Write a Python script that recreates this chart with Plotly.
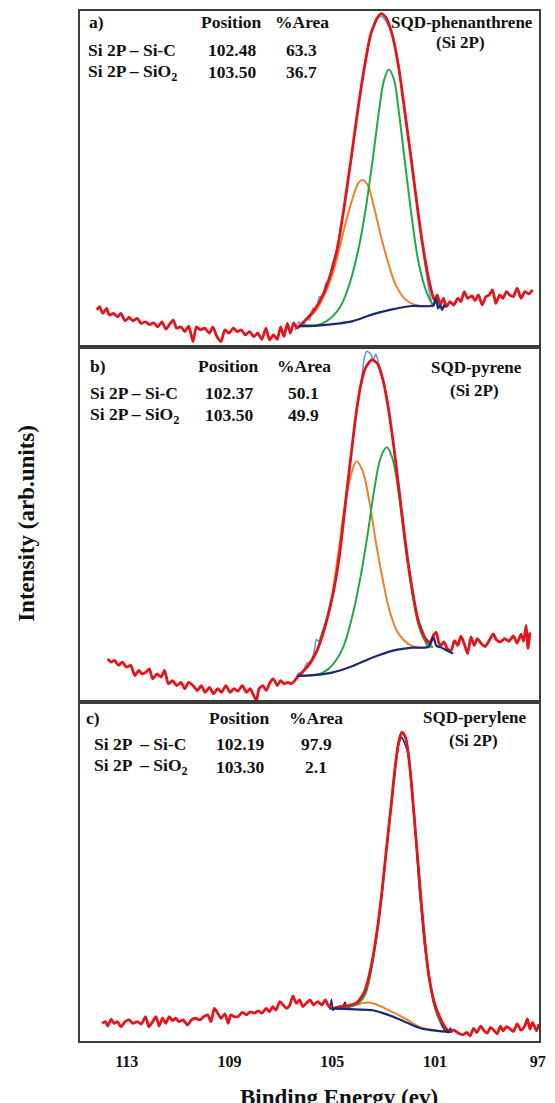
import plotly.graph_objects as go

# ---------------- DATA (binding energy in eV, intensity in arb. units 0-100 per panel) -------------
TICKS = [113, 109, 105, 101, 97]

# Panel a : SQD-phenanthrene
A_data_x = [114.16, 114.06, 113.93, 113.78, 113.68, 113.52, 113.36, 113.23, 113.06, 112.91, 112.76, 112.59,
            112.44, 112.27, 112.12, 111.95, 111.79, 111.63, 111.48, 111.31, 111.19, 111.06, 110.89, 110.74,
            110.59, 110.42, 110.29, 110.13, 109.97, 109.78, 109.65, 109.49, 109.33, 109.18, 109.02, 108.85,
            108.70, 108.54, 108.38, 108.22, 108.06, 107.90, 107.74, 107.58, 107.44, 107.29, 107.14, 107.01,
            106.88, 106.75, 106.63, 106.50, 106.37,
            106.24, 105.73, 105.35, 105.03, 104.77, 104.52, 104.26, 104.01, 103.75, 103.50, 103.24, 103.08,
            102.90, 102.67, 102.41, 102.16, 101.90, 101.65, 101.42, 101.20, 101.03,
            100.91, 100.80, 100.67, 100.55, 100.42, 100.27, 100.11, 99.99, 99.86, 99.73, 99.56, 99.44,
            99.31, 99.16, 99.02, 98.89, 98.76, 98.63, 98.48, 98.35, 98.22, 98.10, 97.95, 97.80, 97.65,
            97.50, 97.35, 97.20]
A_data_y = [11.0, 12.0, 10.0, 11.5, 9.5, 10.0, 9.0, 10.0, 7.8, 8.8, 7.8, 8.5,
            7.0, 7.5, 6.7, 7.2, 6.0, 7.5, 5.3, 7.0, 8.0, 5.6, 6.0, 4.6,
            6.2, 1.6, 6.0, 5.1, 5.6, 4.1, 6.0, 3.1, 1.6, 5.1, 4.1, 5.6,
            4.6, 5.1, 3.6, 4.6, 3.1, 4.1, 2.3, 5.6, 2.1, 3.6, 2.3, 6.0,
            3.1, 7.0, 4.1, 7.2, 5.6,
            6.5, 10.7, 15.7, 22.6, 30.6, 42.5, 56.3, 70.2, 83.1, 93.1, 98.0, 99.2,
            98.0, 93.1, 83.1, 69.2, 54.4, 39.5, 27.6, 18.7, 14.0,
            15.5, 12.5, 14.5, 12.0, 13.5, 12.5, 14.5, 13.5, 16.5, 14.5, 15.2, 13.8,
            15.5, 12.5, 15.0, 15.5, 17.0, 13.0, 15.5, 14.5, 16.5, 15.5, 15.0, 17.5, 14.5,
            16.5, 15.8, 17.0]
A_raw_x = [106.45, 106.30, 106.15, 106.00, 105.88, 105.75, 105.62, 105.50, 105.38, 105.25, 105.12, 105.00,
           104.85, 104.70, 104.52, 104.26, 104.01, 103.75, 103.50, 103.30, 103.12, 102.95, 102.67, 102.41,
           102.16, 101.90, 101.65, 101.45, 101.30, 101.18, 101.08, 100.98, 100.90]
A_raw_y = [5.0, 7.5, 6.0, 8.5, 8.0, 11.5, 11.0, 15.0, 14.5, 19.0, 19.5, 24.5,
           28.0, 34.0, 42.5, 56.3, 70.2, 83.1, 93.1, 97.5, 98.5, 97.5, 93.1, 83.1,
           69.2, 54.4, 39.5, 28.0, 20.0, 15.0, 12.0, 14.5, 12.5]
A_bg_x = [106.30, 105.70, 104.97, 104.20, 103.43, 102.67, 101.90, 101.07, 100.96, 100.88, 100.80, 100.72,
          100.65, 100.60]
A_bg_y = [6.2, 6.3, 6.8, 7.7, 9.7, 11.2, 12.2, 12.4, 14.5, 11.5, 12.5, 11.0, 12.5, 11.8]
A_sic_x = [106.24, 105.60, 105.22, 104.71, 104.33, 103.94, 103.69, 103.43, 103.18, 102.99, 102.80, 102.60,
           102.41, 102.16, 101.90, 101.65, 101.39, 101.14, 101.01]
A_sic_y = [6.6, 6.5, 7.7, 11.7, 18.7, 30.6, 41.5, 55.4, 70.2, 79.2, 82.6, 79.7,
           70.2, 54.4, 38.5, 25.6, 17.7, 13.2, 12.2]
A_sio2_x = [106.24, 105.99, 105.60, 105.29, 104.97, 104.71, 104.46, 104.20, 103.97, 103.82, 103.62, 103.37,
            103.12, 102.86, 102.54, 102.16, 101.77, 101.39, 101.07]
A_sio2_y = [6.6, 8.2, 11.2, 15.7, 22.1, 29.6, 37.5, 44.4, 48.9, 49.7, 48.2, 41.5,
            33.5, 26.1, 18.7, 14.2, 12.5, 12.2, 12.3]

# Panel b : SQD-pyrene
B_data_x = [113.74, 113.61, 113.48, 113.32, 113.17, 113.01, 112.85, 112.68, 112.53, 112.40, 112.25, 112.12,
            111.99, 111.82, 111.66, 111.53, 111.38, 111.22, 111.06, 110.89, 110.74, 110.59, 110.42, 110.25,
            110.10, 109.95, 109.78, 109.62, 109.46, 109.31, 109.14, 108.98, 108.82, 108.67, 108.50, 108.34,
            108.19, 108.06, 107.95, 107.85, 107.70, 107.57, 107.42, 107.29, 107.14, 107.01, 106.88, 106.72,
            106.59, 106.46, 106.30,
            105.99, 105.60, 105.29, 104.97, 104.71, 104.46, 104.26, 104.07, 103.88, 103.69, 103.46, 103.24,
            103.02, 102.82, 102.60, 102.41, 102.16, 101.90, 101.65, 101.39, 101.20, 101.03,
            100.95, 100.85, 100.78, 100.65, 100.52, 100.37, 100.24, 100.11, 99.99, 99.86, 99.73, 99.60,
            99.47, 99.35, 99.19, 99.05, 98.89, 98.73, 98.61, 98.45, 98.29, 98.12, 97.95, 97.80, 97.65,
            97.55, 97.45, 97.38, 97.30]
B_data_y = [12.0, 11.1, 11.6, 10.2, 11.1, 9.7, 10.2, 7.3, 8.8, 7.8, 8.3, 9.2,
            6.4, 7.8, 6.9, 8.8, 5.0, 5.9, 4.5, 5.4, 3.6, 5.4, 4.5, 3.1,
            4.5, 2.6, 4.0, 2.2, 3.6, 2.6, 4.5, 2.6, 3.6, 2.9, 4.5, 2.6,
            3.6, 1.7, 0.3, 3.6, 4.5, 3.1, 5.4, 6.4, 4.5, 5.9, 5.0, 5.4,
            5.0, 5.9, 7.3,
            9.6, 14.3, 20.9, 30.3, 41.6, 57.6, 69.9, 81.2, 89.6, 94.3, 96.4, 95.3,
            90.6, 83.0, 71.7, 60.4, 45.4, 32.2, 22.8, 18.0, 16.6, 19.0,
            19.5, 16.5, 15.8, 16.8, 14.9, 14.4, 17.2, 15.8, 18.4, 16.3, 13.5, 18.2,
            15.8, 17.7, 16.3, 15.5, 17.2, 19.1, 17.4, 16.8, 17.7, 17.0, 18.5, 16.5, 19.0,
            17.0, 21.5, 15.0, 19.5]
B_raw_x = [106.45, 106.30, 106.18, 106.05, 105.95, 105.85, 105.72, 105.62, 105.52, 105.40, 105.25, 105.10,
           104.95, 104.80, 104.65, 104.46, 104.26, 104.07, 103.88, 103.75, 103.65, 103.50, 103.40, 103.30,
           103.20, 103.08, 102.95, 102.82, 102.60, 102.41, 102.16, 101.90, 101.65, 101.45, 101.30, 101.18,
           101.08, 101.00]
B_raw_y = [6.0, 8.0, 7.5, 10.0, 11.0, 10.5, 13.5, 17.5, 17.0, 19.5, 22.5, 27.0,
           31.5, 38.0, 45.0, 57.6, 69.9, 81.2, 89.6, 97.0, 98.8, 98.0, 96.5, 98.0,
           95.5, 92.5, 88.5, 83.0, 71.7, 60.4, 45.4, 32.2, 22.8, 18.5, 15.5, 15.2,
           19.0, 17.0]
B_bg_x = [106.37, 105.60, 104.97, 104.20, 103.43, 102.67, 101.90, 101.26, 101.07, 100.94, 100.78, 100.59,
          100.40, 100.29]
B_bg_y = [7.2, 7.5, 8.2, 10.0, 12.4, 14.3, 15.2, 15.4, 18.0, 15.7, 15.3, 14.6, 13.9, 13.5]
B_sic_x = [106.37, 105.86, 105.35, 104.97, 104.58, 104.20, 103.88, 103.62, 103.37, 103.11, 102.88, 102.67,
           102.41, 102.16, 101.90, 101.65, 101.39, 101.20, 101.07]
B_sic_y = [7.2, 7.3, 8.2, 10.5, 15.2, 24.6, 35.9, 47.2, 59.5, 68.9, 71.7, 68.9,
           58.6, 44.4, 31.2, 21.8, 17.1, 15.7, 15.4]
B_sio2_x = [106.37, 105.86, 105.48, 105.09, 104.77, 104.52, 104.26, 104.05, 103.82, 103.56, 103.31, 103.05,
            102.73, 102.41, 102.03, 101.65, 101.26]
B_sio2_y = [7.2, 10.5, 16.2, 26.5, 41.6, 54.8, 64.2, 67.8, 65.1, 56.7, 45.4, 35.0,
            24.6, 19.0, 16.2, 15.2, 15.4]

# Panel c : SQD-perylene
C_data_x = [113.96, 113.83, 113.74, 113.61, 113.49, 113.36, 113.23, 113.06, 112.91, 112.76, 112.59, 112.43,
            112.27, 112.14, 111.99, 111.86, 111.74, 111.61, 111.48, 111.35, 111.22, 111.10, 110.97, 110.80,
            110.64, 110.48, 110.33, 110.16, 110.00, 109.85, 109.72, 109.59, 109.46, 109.33, 109.18, 109.05,
            108.95, 108.82, 108.67, 108.50, 108.34, 108.19, 108.03, 107.87, 107.74, 107.57, 107.44, 107.32,
            107.19, 107.04, 106.91, 106.78, 106.65, 106.53, 106.40, 106.27, 106.14, 106.01, 105.86, 105.73,
            105.57, 105.40, 105.27, 105.14, 105.02,
            104.71, 104.33, 104.01, 103.75, 103.50, 103.24, 103.05, 102.86, 102.69, 102.54, 102.41, 102.29,
            102.16, 102.03, 101.90, 101.75, 101.58, 101.42, 101.24, 101.03, 100.82, 100.60,
            100.46, 100.27, 100.08, 99.91, 99.76, 99.63, 99.50, 99.37, 99.22, 99.09, 98.96, 98.84,
            98.71, 98.58, 98.45, 98.35, 98.22, 98.10, 97.95, 97.80, 97.65, 97.50, 97.40, 97.30,
            97.20, 97.05, 96.95]
C_data_y = [5.2, 5.7, 4.4, 6.4, 5.2, 5.7, 4.2, 5.7, 6.2, 5.2, 5.7, 5.0,
            7.2, 4.2, 5.7, 7.2, 4.4, 6.7, 5.2, 7.2, 6.0, 6.7, 5.7, 6.2,
            4.7, 6.2, 6.7, 6.2, 7.2, 7.7, 5.7, 9.6, 8.2, 6.7, 8.0, 5.2,
            7.7, 7.2, 7.2, 8.4, 7.7, 8.6, 8.2, 8.9, 8.2, 9.6, 8.6, 10.1,
            9.1, 11.6, 10.6, 9.6, 10.6, 13.3, 11.1, 12.1, 10.1, 11.1, 12.1, 10.6,
            11.6, 10.6, 12.1, 10.3, 9.6,
            10.1, 10.5, 11.5, 14.5, 21.4, 33.2, 45.0, 58.7, 70.5, 81.3, 88.2, 91.0,
            89.7, 84.3, 74.4, 60.7, 45.0, 31.2, 19.4, 11.5, 7.1, 4.0,
            2.7, 3.2, 2.3, 1.8, 2.5, 1.5, 3.7, 2.5, 4.4, 3.0, 2.3, 4.0,
            3.2, 2.1, 4.4, 3.0, 4.2, 3.7, 2.8, 5.0, 3.2, 4.5, 6.5, 3.5,
            5.5, 3.0, 5.0]
C_raw_x = [105.10, 105.03, 104.97, 104.88, 104.80, 104.60, 104.50, 104.44, 104.30, 104.00, 103.75, 103.50,
           103.24, 103.05, 102.86, 102.69, 102.54, 102.41, 102.30, 102.20, 102.08, 101.98, 101.86, 101.72,
           101.60, 101.48, 101.40, 101.25, 101.05, 100.85, 100.62, 100.50, 100.40, 100.33]
C_raw_y = [9.3, 12.3, 9.0, 9.8, 9.5, 10.0, 11.5, 9.6, 10.2, 11.4, 14.2, 21.0,
           33.0, 44.5, 58.5, 70.5, 81.0, 87.5, 89.5, 88.0, 85.5, 80.5, 70.0, 57.5,
           44.0, 34.5, 28.0, 20.0, 11.0, 6.5, 3.2, 2.5, 3.8, 2.4]
C_bg_x = [105.06, 104.10, 103.46, 102.82, 102.18, 101.54, 100.91, 100.39]
C_bg_y = [9.6, 9.3, 9.1, 7.7, 5.7, 3.7, 3.0, 2.7]
C_sic_x = [104.90, 104.50, 104.20, 103.95, 103.72, 103.50, 103.24, 103.05, 102.86, 102.69, 102.54, 102.41,
           102.29, 102.16, 102.03, 101.90, 101.75, 101.58, 101.42, 101.24, 101.03, 100.82, 100.56, 100.39]
C_sic_y = [9.5, 9.8, 10.3, 11.3, 13.6, 20.2, 32.6, 44.6, 58.5, 70.4, 81.2, 88.1,
           90.8, 89.5, 84.1, 74.2, 60.5, 44.8, 31.0, 19.0, 10.8, 6.2, 3.8, 2.8]
C_sio2_x = [104.80, 104.10, 103.72, 103.33, 102.82, 102.18, 101.54, 101.03, 100.60]
C_sio2_y = [9.5, 10.6, 11.3, 10.9, 9.1, 6.7, 4.0, 3.2, 2.8]

PANEL_LABELS = ["a)", "b)", "c)"]
SAMPLES = ["SQD-phenanthrene", "SQD-pyrene", "SQD-perylene"]
COMPONENTS = [["Si 2P \u2013 Si-C", "Si 2P \u2013 SiO<sub>2</sub>"],
              ["Si 2P \u2013 Si-C", "Si 2P \u2013 SiO<sub>2</sub>"],
              ["Si 2P  \u2013 Si-C", "Si 2P  \u2013 SiO<sub>2</sub>"]]
POSITIONS = [["102.48", "103.50"], ["102.37", "103.50"], ["102.19", "103.30"]]
AREAS = [["63.3", "36.7"], ["50.1", "49.9"], ["97.9", "2.1"]]

# ---------------- LAYOUT / STYLE ----------------
W, H = 555, 1103
ML, MR, MT, MB = 80, 9, 11, 62
PW, PH = W - ML - MR, H - MT - MB


def px(x):
    return (x - ML) / PW


def py(y):
    return (H - MB - y) / PH


FONT = "Liberation Serif, Times New Roman, serif"
RED, GREEN, ORANGE, NAVY, LBLUE = "#e3141c", "#22a844", "#f0812c", "#1b2a6e", "#5b9bd5"
BORDER = "#3c3c3c"
XR = [114.82, 96.95]

panels = [
    dict(data=(A_data_x, A_data_y), raw=(A_raw_x, A_raw_y, LBLUE), bg=(A_bg_x, A_bg_y),
         sic=(A_sic_x, A_sic_y), sio2=(A_sio2_x, A_sio2_y)),
    dict(data=(B_data_x, B_data_y), raw=(B_raw_x, B_raw_y, LBLUE), bg=(B_bg_x, B_bg_y),
         sic=(B_sic_x, B_sic_y), sio2=(B_sio2_x, B_sio2_y)),
    dict(data=(C_data_x, C_data_y), raw=(C_raw_x, C_raw_y, NAVY), bg=(C_bg_x, C_bg_y),
         sic=(C_sic_x, C_sic_y), sio2=(C_sio2_x, C_sio2_y)),
]
domains = [[py(347), 1.0], [py(701.5), py(347)], [0.0, py(701.5)]]

fig = go.Figure()
for i, p in enumerate(panels):
    suf = "" if i == 0 else str(i + 1)
    xa, ya = "x" + suf, "y" + suf
    rx, ry, rc = p["raw"]
    fig.add_trace(go.Scatter(x=rx, y=ry, mode="lines", xaxis=xa, yaxis=ya,
                             line=dict(color=rc, width=1.6, shape="spline", smoothing=0.5)))
    fig.add_trace(go.Scatter(x=p["sio2"][0], y=p["sio2"][1], mode="lines", xaxis=xa, yaxis=ya,
                             line=dict(color=ORANGE, width=2, shape="spline", smoothing=1)))
    fig.add_trace(go.Scatter(x=p["sic"][0], y=p["sic"][1], mode="lines", xaxis=xa, yaxis=ya,
                             line=dict(color=GREEN, width=2, shape="spline", smoothing=1)))
    fig.add_trace(go.Scatter(x=p["data"][0], y=p["data"][1], mode="lines", xaxis=xa, yaxis=ya,
                             line=dict(color=RED, width=2.8, shape="spline", smoothing=0.6)))
    fig.add_trace(go.Scatter(x=p["bg"][0], y=p["bg"][1], mode="lines", xaxis=xa, yaxis=ya,
                             line=dict(color=NAVY, width=2.2, shape="spline", smoothing=0.8)))

    bottom = (i == 2)
    fig.layout["xaxis" + suf] = dict(
        range=XR, domain=[0, 1], anchor=ya, showgrid=False, zeroline=False,
        showline=True, mirror=True, linecolor=BORDER, linewidth=2,
        tickvals=TICKS, ticktext=[str(t) for t in TICKS],
        showticklabels=bottom, ticks="outside" if bottom else "", ticklen=5,
        tickcolor="rgba(0,0,0,0)",
        tickfont=dict(family=FONT, size=16, color="#111", weight="bold"),
        matches=None if i == 0 else "x")
    fig.layout["yaxis" + suf] = dict(
        range=[0, 100], domain=domains[i], anchor=xa, showgrid=False, zeroline=False,
        showline=True, mirror=True, linecolor=BORDER, linewidth=2,
        showticklabels=False, ticks="")

# ---------------- TEXT ----------------
ann = []


def text(t, x, y, xanchor="center", size=17.5):
    ann.append(dict(text=t, x=px(x), y=py(y), xref="paper", yref="paper", xanchor=xanchor,
                    yanchor="middle", showarrow=False,
                    font=dict(family=FONT, size=size, color="#111", weight="bold")))


place = [
    dict(lab=86, lab0=87, pos=234, area=305, title=468, rows=[22, 50, 72], ty=[22, 43]),
    dict(lab=88, lab0=88, pos=231, area=307, title=483, rows=[366, 393, 415], ty=[367, 390]),
    dict(lab=92, lab0=84, pos=242, area=320, title=481, rows=[718, 744, 767], ty=[717, 740]),
]
for i, pl in enumerate(place):
    r = pl["rows"]
    text(PANEL_LABELS[i], pl["lab0"], r[0], "left")
    text("Position", pl["pos"], r[0])
    text("%Area", pl["area"], r[0])
    for k in range(2):
        text(COMPONENTS[i][k], pl["lab"], r[k + 1], "left")
        text(POSITIONS[i][k], pl["pos"], r[k + 1])
        text(AREAS[i][k], pl["area"], r[k + 1])
    text(SAMPLES[i], pl["title"], pl["ty"][0], size=17)
    text("(Si 2P)", pl["title"] - 2, pl["ty"][1], size=17)

ann.append(dict(text="Intensity (arb.units)", x=px(25), y=py(523), xref="paper", yref="paper",
                textangle=-90, showarrow=False, xanchor="center", yanchor="middle",
                font=dict(family=FONT, size=23, color="#111", weight="bold")))
ann.append(dict(text="Binding Energy (ev)", x=px(343), y=py(1097), xref="paper", yref="paper",
                showarrow=False, xanchor="center", yanchor="middle",
                font=dict(family=FONT, size=23, color="#111", weight="bold")))

fig.update_layout(width=W, height=H, margin=dict(l=ML, r=MR, t=MT, b=MB),
                  paper_bgcolor="white", plot_bgcolor="white", showlegend=False,
                  annotations=ann)

fig.write_html("out.html", config={"displayModeBar": False},
               post_script="document.body.style.margin='0';document.body.style.overflow='hidden';")
